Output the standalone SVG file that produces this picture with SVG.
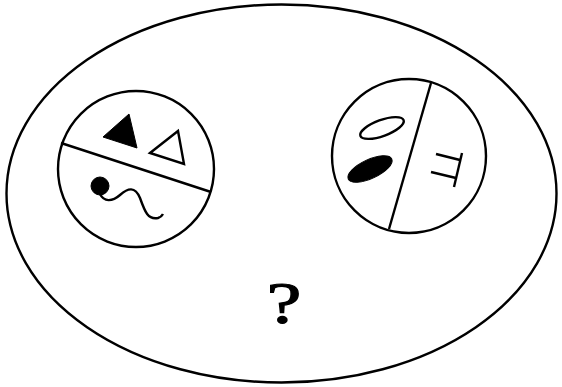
<svg xmlns="http://www.w3.org/2000/svg" width="562" height="387" viewBox="0 0 562 387">
<style>
.s{fill:none;stroke:#000;stroke-width:2.4}
.f{fill:#000;stroke:#000;stroke-width:1}
.o{fill:#fff;stroke:#000;stroke-width:2.4}
.q{font-family:"Liberation Serif","Times New Roman",serif;font-size:60px;fill:#000;stroke:#000;stroke-width:1.2}
</style>
<rect width="562" height="387" fill="#fff"/>
<g id="outer"><ellipse class="s" cx="281.5" cy="193.5" rx="275" ry="189"/></g>
<g id="left-circle">
<circle class="s" cx="136" cy="169" r="78"/>
<line class="s" x1="61" y1="143" x2="211" y2="192"/>
<polygon class="f" points="103,137 129,114 137,148"/>
<polygon class="o" points="150,153 178,131 184,164"/>
<circle class="f" cx="100" cy="186" r="9"/>
<path class="s" d="M100,194 C104,202 112,202 120,195 C128,188 135,186 140,198 C145,212 148,220 158,218 C161,217 162,216 163,214"/>
</g>
<g id="right-circle">
<circle class="s" cx="409" cy="156" r="77"/>
<line class="s" x1="431" y1="83" x2="389" y2="229"/>
<ellipse class="s" cx="382" cy="128" rx="23" ry="8" transform="rotate(-20 382 128)"/>
<ellipse class="f" cx="370" cy="169" rx="24" ry="9.5" transform="rotate(-25 370 169)"/>
<line class="s" x1="462" y1="153" x2="454" y2="187"/>
<line class="s" x1="436" y1="154" x2="460" y2="160"/>
<line class="s" x1="431" y1="172" x2="456" y2="178"/>
</g>
<g id="question"><text class="q" x="0" y="323" text-anchor="middle" transform="translate(284 0) scale(1.3 1)">?</text></g>
<g id="connectors"/>
</svg>
